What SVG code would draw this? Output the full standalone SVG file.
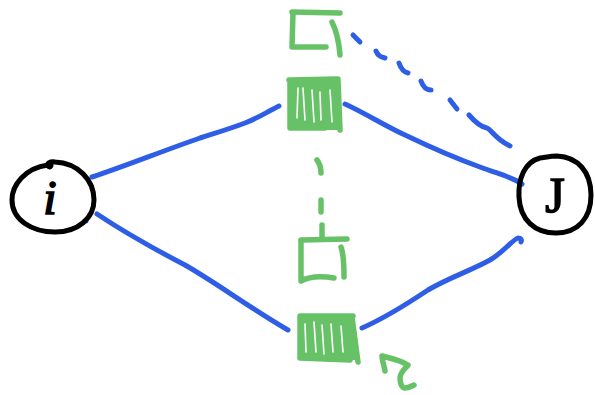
<svg xmlns="http://www.w3.org/2000/svg" width="595" height="395" viewBox="0 0 595 395">
<style>
.blue{fill:none;stroke:#2f5ee6;stroke-width:5;stroke-linecap:round;stroke-linejoin:round}
.green{fill:none;stroke:#67c267;stroke-width:5.5;stroke-linecap:round;stroke-linejoin:round}
.gfill{fill:#67c267}
.gap{fill:none;stroke:#ffffff;stroke-width:1.6;stroke-linecap:round}
.ring{fill:none;stroke:#000;stroke-width:5;stroke-linecap:round}
.lbl{font-family:"Liberation Serif",serif;fill:#000;stroke:#000;stroke-width:1.6}
</style>
<rect width="595" height="395" fill="#fff"/>
<g id="connectors">
<path class="blue" d="M92,177 C120,168 160,152 200,138 C222,131 232,128 245,123 C258,118 265,113 279,106"/>
<path class="blue" d="M97,214 C130,236 160,252 185,265 C215,282 250,308 288,330"/>
<circle cx="86" cy="221" r="2.5" fill="#2f5ee6"/>
<path class="blue" d="M345,104 C365,113 385,126 405,135 C430,147 455,158 480,167 C498,174 510,176 522,184"/>
<path class="blue" d="M362,328 C385,318 410,302 428,290 C448,278 470,271 490,260 C505,251 512,240 518,238 C521,238 522,240 521,242"/>
<path class="blue" d="M353,35 L360,42"/>
<path class="blue" d="M376,51 C378,56 381,57 385,58"/>
<path class="blue" d="M399,63 C401,69 404,72 408,73"/>
<path class="blue" d="M421,81 C423,87 427,90 431,90"/>
<path class="blue" d="M450,100 L457,109"/>
<path class="blue" d="M469,115 C475,122 481,127 487,128 C492,130 494,138 510,146"/>
<path class="green" d="M317,160 C320,164 321,168 321,173"/>
<path class="green" d="M321,200 L321,212"/>
</g>
<g id="node-i">
<path class="ring" d="M48,165 C25,168 12,185 12,200 C12,220 32,232 55,232 C78,232 94,218 94,200 C94,180 78,163 55,162 C50,161 46,164 48,166 C50,168 52,166 50,164"/>
<text class="lbl" x="50" y="214" font-size="48" font-style="italic" text-anchor="middle">i</text>
</g>
<g id="node-J">
<path class="ring" d="M540,158 C525,162 518,178 519,197 C520,220 535,233 556,233 C578,233 591,218 591,195 C591,172 578,157 557,156 C550,156 543,158 540,158"/>
<text class="lbl" x="555" y="212" font-size="50" text-anchor="middle">J</text>
</g>
<g id="box-top-empty">
<path class="green" d="M292,12 L340,13"/>
<path class="green" d="M293,13 L292,47 L326,47"/>
<path class="green" d="M332,22 C336,30 339,42 340,55"/>
</g>
<g id="box-top-filled">
<path class="gfill" d="M290,80 L337,78 L338,88 L340,130 L290,130 Z"/>
<path class="green" d="M289,80 L338,79 M338,80 L340,130 M290,80 L290,128 L325,128"/>
<path class="gap" d="M298,88 L297,118 M303,88 L305,120 M312,90 L314,122 M320,92 L321,120 M330,90 L332,122"/>
</g>
<g id="box-mid-empty">
<path class="green" d="M322,225 L322,238"/>
<path class="green" d="M301,240 L347,239"/>
<path class="green" d="M301,241 L301,281 C310,276 322,276 334,278"/>
<path class="green" d="M341,247 C344,255 344,268 344,277"/>
</g>
<g id="box-bottom-filled">
<path class="gfill" d="M300,316 L353,315 L356,360 L300,360 Z"/>
<path class="green" d="M300,316 L353,316 M352,317 C354,332 356,348 358,362 M300,317 L300,358 L350,360"/>
<path class="gap" d="M305,324 L306,352 M314,322 L316,352 M322,325 L324,354 M331,324 L333,352 M341,326 L343,352"/>
</g>
<g id="mark">
<path class="green" d="M385,371 C384,365 382,360 382,356 C390,358 400,360 408,365 C405,369 400,372 400,378 C400,384 402,388 405,388 C409,388 412,386 414,385"/>
</g>
</svg>
